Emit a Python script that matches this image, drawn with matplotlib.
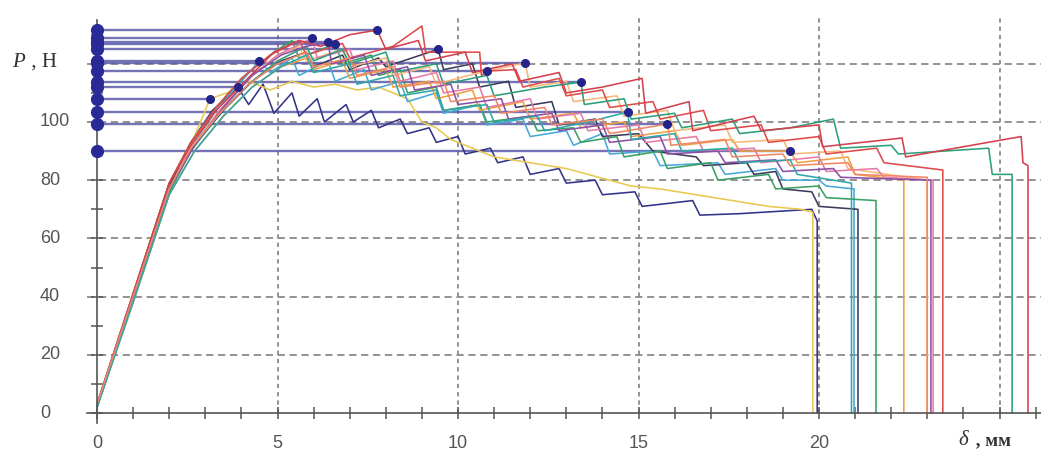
import matplotlib
matplotlib.use("Agg")
import matplotlib.pyplot as plt

# ---- data ----
# peak points marked with dots (delta, P)
peak_x = [3.90, 3.13, 4.50, 9.45, 6.60, 19.2, 11.86, 5.96, 10.8, 13.4, 7.76, 6.40, 14.7, 15.8]
peak_p = [112.0, 108.0, 121.0, 125.0, 126.8, 90.0, 120.3, 128.8, 117.5, 113.7, 131.6, 127.5, 103.4, 99.3]

c1 = [(0,2),(1,40),(2,78),(2.6,93),(3.2,104),(3.9,112),(4.2,106),(4.6,113),(4.9,103),(5.4,110),(5.6,102),(6.1,108),(6.3,100),(6.9,106),(7.1,100),(7.6,104),(7.8,98),(8.4,101),(8.6,96),(9.2,98),(9.4,93),(10.0,95),(10.2,89),(10.9,91),(11.1,86),(11.8,88),(12.0,82),(12.8,84),(13.0,79),(13.8,80),(14.0,75),(14.9,76),(15.1,71),(16.5,73),(16.7,68),(17.8,68.5),(19.8,70),(19.95,66),(19.95,0)]
c2 = [(0,3),(1,39),(2,76),(2.6,92),(3.13,108),(3.6,110),(4.2,114),(4.8,111),(5.4,114),(6.0,112),(6.6,113),(7.2,111),(7.8,112),(8.2,110),(8.6,108),(9.0,100),(9.4,98),(9.8,94),(10.4,91),(11.0,88),(12.0,86),(13.0,84),(13.6,82),(14.2,80),(14.8,78),(15.6,77),(16.6,75),(17.6,73),(18.6,71),(19.5,70),(19.83,69),(19.83,0)]
c3 = [(0,2),(1,39),(2,77),(2.6,91),(3.3,104),(4.0,114),(4.5,121),(4.8,117),(5.4,122),(5.6,116),(6.4,121),(6.6,114),(7.4,118),(7.6,111),(8.4,114),(8.6,107),(9.4,110),(9.6,103),(10.6,106),(10.8,99),(11.8,101),(12.0,95),(13.0,97),(13.2,92),(14.0,96),(14.2,89),(15.4,90),(15.6,85),(17.2,86),(17.4,82),(18.8,84),(19.0,80),(20.0,80),(20.2,78),(20.97,77),(20.97,0)]
c4 = [(0,2),(1,40),(2,78),(2.7,92),(3.5,104),(4.3,114),(5.1,121),(5.8,124),(6.0,119),(6.8,123),(7.0,118),(7.8,122),(8.0,119),(9.45,125),(9.6,118),(10.4,120),(10.6,112),(11.4,114),(11.6,105),(12.6,107),(12.8,99),(13.8,101),(14.0,95),(15.0,96),(15.4,90),(16.6,88),(16.8,85),(18.0,86),(18.2,82),(18.8,83),(19.0,77),(19.8,76),(20.0,71),(21.08,70),(21.08,0)]
c5 = [(0,3),(1,41),(2,79),(2.6,93),(3.3,105),(4.1,116),(4.9,124),(5.4,128),(5.6,122),(6.6,126.8),(6.8,120),(7.6,123),(7.8,116),(8.4,118),(8.6,110),(9.4,112),(9.6,104),(10.6,106),(10.8,100),(12.0,102),(12.2,97),(13.2,98),(13.4,93),(14.4,95),(14.6,88),(15.6,90),(15.8,84),(17.0,86),(17.2,80),(18.6,82),(18.8,77),(20.0,78),(20.2,74),(21.58,73),(21.58,0)]
c6 = [(0,2),(1,38),(2,75),(2.7,90),(3.5,102),(4.3,112),(5.1,119),(5.8,122),(6.0,118),(6.8,121),(7.0,115),(8.0,118),(8.2,112),(9.2,114),(9.4,108),(10.4,111),(10.6,104),(11.8,107),(12.0,101),(13.2,103),(13.4,98),(14.6,100),(14.8,95),(16.0,97),(16.2,92),(17.6,94),(17.8,90),(19.2,90),(19.4,86),(20.8,88),(21.0,82),(22.35,80),(22.35,0)]
c7 = [(0,3),(1,40),(2,77),(2.6,91),(3.4,104),(4.2,115),(5.0,123),(5.6,126),(5.8,121),(6.8,125),(7.0,119),(8.0,122),(8.2,116),(9.2,119),(9.4,113),(10.6,117),(11.86,120.3),(12.0,112),(13.0,114),(13.2,107),(14.4,109),(14.6,102),(15.8,104),(16.0,97),(17.4,99),(17.6,93),(19.0,94),(19.2,89),(20.6,90),(20.8,84),(22.99,80),(22.99,0)]
c8 = [(0,2),(1,39),(2,76),(2.6,90),(3.4,104),(4.2,115),(5.0,123),(5.96,128.8),(6.1,122),(7.0,125),(7.2,118),(8.2,121),(8.4,114),(9.4,117),(9.6,110),(10.6,112),(10.8,105),(12.0,108),(12.2,101),(13.4,103),(13.6,97),(15.0,99),(15.2,93),(16.6,95),(16.8,90),(18.2,91),(18.4,86),(20.0,88),(20.2,83),(21.6,84),(21.8,81),(23.16,80),(23.16,0)]
c9 = [(0,3),(1,41),(2,79),(2.6,93),(3.3,105),(4.0,115),(4.8,123),(5.6,128),(5.8,123),(6.8,127),(7.0,122),(8.2,126),(9.0,133),(9.1,124),(10.6,124),(10.65,116),(10.8,117.5),(11.6,118),(11.8,112),(12.8,115),(13.0,109),(14.0,111),(14.2,105),(15.4,107),(15.6,101),(16.8,104),(17.0,97),(18.4,99),(18.6,93),(20.0,95),(20.2,89),(21.6,91),(21.8,86),(23.43,83.5),(23.43,0)]
c10 = [(0,2),(1,39),(2,76),(2.6,90),(3.4,103),(4.2,113),(5.0,121),(5.8,126),(6.0,121),(6.8,125),(7.0,120),(8.0,124),(8.2,117),(9.4,120),(9.6,113),(10.8,116),(11.0,109),(12.4,112),(13.4,113.7),(13.5,106),(14.6,108),(14.8,101),(16.0,103),(16.2,98),(17.6,101),(17.8,96),(19.2,98),(20.4,101),(20.6,91),(22.0,92),(22.2,89),(24.7,91),(24.8,82),(25.35,82),(25.35,0)]
c11 = [(0,3),(1,41),(2,79),(2.6,92),(3.3,104),(4.1,114),(4.9,124),(5.6,128),(6.2,126),(7.0,130),(7.76,131.6),(8.0,125),(8.9,128),(9.1,121),(10.2,124),(10.4,117),(11.5,120),(11.7,114),(12.8,117),(13.0,110),(14.0,112),(15.1,115),(15.2,103),(16.4,107),(16.5,97),(18.2,102),(18.4,97),(20.0,99),(20.1,91.5),(22.3,94.5),(22.4,88),(25.6,95),(25.65,86),(25.79,85),(25.79,0)]
c12 = [(0,3),(1,40),(2,77),(2.7,92),(3.5,105),(4.3,116),(5.1,123),(5.8,126),(6.4,127.5),(6.5,120),(7.4,123),(7.6,116),(8.6,119),(8.8,111),(9.8,113),(10.0,106),(11.2,108),(11.4,101),(12.6,103),(12.8,97),(14.0,99),(14.2,93),(15.6,95),(15.8,89),(17.2,90),(17.4,86),(18.8,87),(19.0,83),(20.4,84),(20.6,81),(23.1,80),(23.1,0)]
c13 = [(0,2),(1,38),(2,75),(2.7,90),(3.5,102),(4.3,112),(5.1,119),(5.8,123),(6.0,117),(7.0,120),(7.2,113),(8.2,116),(8.4,109),(9.4,111),(9.6,104),(10.8,106),(11.0,100),(12.2,102),(12.4,97),(13.6,100),(14.7,103.4),(14.8,94),(16.0,96),(16.2,90),(17.6,91),(17.8,86),(19.2,87),(19.4,82),(20.9,79),(20.9,0)]
c14 = [(0,3),(1,40),(2,77),(2.6,91),(3.4,103),(4.2,113),(5.0,120),(5.8,124),(6.0,119),(7.0,122),(7.2,116),(8.2,119),(8.4,112),(9.6,114),(9.8,107),(11.0,109),(11.2,103),(12.4,105),(12.6,99),(14.0,101),(14.2,96),(15.8,99.3),(15.9,92),(17.4,94),(17.6,88),(19.0,89),(19.2,85),(20.8,86),(21.0,82),(23.0,81),(23.0,0)]

x_ticks = [0, 5, 10, 15, 20, 25]
x_labels = ["0", "5", "10", "15", "20", ""]
y_ticks = [0, 20, 40, 60, 80, 100, 120]
y_labels = ["0", "20", "40", "60", "80", "100", ""]

# ---- styles ----
curves = [c1, c2, c3, c4, c5, c6, c7, c8, c9, c10, c11, c12, c13, c14]
colors = ["#33338a", "#e8c850", "#48a8d8", "#3c3c5c", "#3aa062", "#f0a040",
          "#f5b87a", "#e67aa8", "#e04a4a", "#2ca07a", "#d4404e", "#8c50a8",
          "#30a8a8", "#f08868"]

W, H = 1041, 457
px_per_x = 36.1
px_per_y = 2.91
x0_px, y0_px = 97, 413

fig = plt.figure(figsize=(W / 100, H / 100), dpi=100)
ax = fig.add_axes([0, 0, 1, 1])
ax.set_xlim(-x0_px / px_per_x, (W - x0_px) / px_per_x)
ax.set_ylim(-(H - y0_px) / px_per_y, y0_px / px_per_y)

grid_c = "#8a8a8a"
# horizontal grid
for yv in y_ticks[1:]:
    ax.plot([-0.28, 26.2], [yv, yv], color=grid_c, lw=1.3, dashes=(4, 2.6), zorder=1)
# vertical grid
for xv in x_ticks[1:]:
    ax.plot([xv, xv], [0, 136.5], color=grid_c, lw=1.3, dashes=(2.4, 2.2), zorder=1)

# horizontal lines from axis to peaks
for xp, pp in zip(peak_x, peak_p):
    ax.plot([0, xp], [pp, pp], color="#5a5aa8", lw=1.7, alpha=0.85, zorder=2)

for pts, col in zip(curves, colors):
    xs = [p[0] for p in pts]
    ys = [p[1] for p in pts]
    ax.plot(xs, ys, color=col, lw=1.15, zorder=3)

ax.plot(peak_x, peak_p, "o", color="#23238a", ms=5.5, zorder=5)
ax.plot([0] * len(peak_p), peak_p, "o", color="#2a2a96", ms=8.5, zorder=5, clip_on=False)

# axes
for s in ["top", "right"]:
    ax.spines[s].set_visible(False)
ax.spines["left"].set_position(("data", 0))
ax.spines["bottom"].set_position(("data", 0))
ax.spines["left"].set_bounds(-3.4, 135)
ax.spines["bottom"].set_bounds(-0.28, 26.2)
for s in ["left", "bottom"]:
    ax.spines[s].set_color("#555555")
    ax.spines[s].set_linewidth(1.2)
    ax.spines[s].set_zorder(4)

ax.set_xticks(x_ticks)
ax.set_xticks(range(0, 27), minor=True)
ax.set_yticks(y_ticks)
ax.set_yticks(range(0, 131, 10), minor=True)
ax.tick_params(which="both", direction="inout", length=9, width=1.1, color="#555555",
               labelbottom=False, labelleft=False)

lab_font = dict(fontsize=13, color="#555555", family="Liberation Sans")
for xv, s in zip(x_ticks, x_labels):
    ax.text(xv, -10.6, s, ha="center", va="center", **lab_font)
for yv, s in zip(y_ticks, y_labels):
    ax.text(-1.58, yv, s, ha="left", va="center", **lab_font)

serif = "Liberation Serif"
ax.text(-2.36, 120.6, "P", ha="left", va="center", fontsize=15, style="italic",
        family=serif, color="#333333")
ax.text(-1.98, 120.6, " , Н", ha="left", va="center", fontsize=15,
        family=serif, color="#333333")
ax.text(23.85, -9.6, "δ", ha="left", va="center", fontsize=15, style="italic",
        family=serif, color="#333333")
ax.text(24.2, -9.6, " , мм", ha="left", va="center", fontsize=13.5, weight="bold",
        family=serif, color="#333333")

fig.savefig("out.png", dpi=100)
